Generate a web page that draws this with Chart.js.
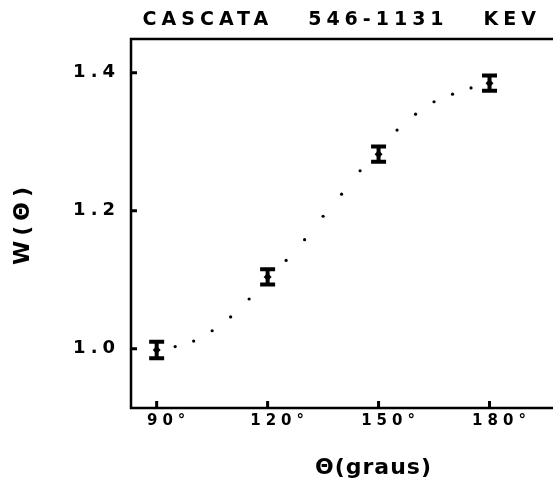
<!DOCTYPE html>
<html>
<head>
<meta charset="utf-8">
<script src="https://cdn.jsdelivr.net/npm/chart.js@4.4.1/dist/chart.umd.min.js"></script>
<style>
html, body { margin: 0; padding: 0; background: #fff; overflow: hidden; width: 553px; height: 481px; }
</style>
</head>
<body>
<!-- plot frame runs past the right edge of the page, as in the scan -->
<canvas id="c" width="620" height="481"></canvas>
<script>
// measured W(theta) with error bars
var angles = [90, 120, 150, 180];
var wValues = [0.998, 1.104, 1.282, 1.385];
var wErrors = [0.012, 0.011, 0.011, 0.011];

// dotted theoretical curve
var fitAngles = [95, 100, 105, 110, 115, 125, 130, 135, 140, 145, 155, 160, 165, 170, 175];
var fitValues = [1.003, 1.011, 1.026, 1.046, 1.072, 1.128, 1.158, 1.192, 1.224, 1.258, 1.317, 1.340, 1.358, 1.369, 1.378];

var xTicks = [90, 120, 150, 180];
var yTicks = [1.0, 1.2, 1.4];

var sans = "'DejaVu Sans', sans-serif";
var INK = '#000';

// plotter-like wide lettering; reset before the layers drawn after datasets
var spacing = {
  id: 'spacing',
  beforeUpdate: function (chart) { chart.ctx.letterSpacing = '5px'; },
  beforeDraw: function (chart) { chart.ctx.letterSpacing = '5px'; },
  afterDatasetsDraw: function (chart) { chart.ctx.letterSpacing = '1px'; }
};

var frame = {
  id: 'frame',
  beforeDatasetsDraw: function (chart) {
    var ctx = chart.ctx, a = chart.chartArea;
    var xs = chart.scales.x, ys = chart.scales.y;
    ctx.save();
    ctx.strokeStyle = INK;
    ctx.lineWidth = 2.5;
    ctx.beginPath();
    ctx.moveTo(chart.width + 5, a.top);
    ctx.lineTo(a.left, a.top);
    ctx.lineTo(a.left, a.bottom);
    ctx.lineTo(chart.width + 5, a.bottom);
    ctx.stroke();
    // inward tick marks
    ctx.lineWidth = 3;
    ctx.beginPath();
    xs.ticks.forEach(function (t) {
      var px = xs.getPixelForValue(t.value);
      ctx.moveTo(px, a.bottom);
      ctx.lineTo(px, a.bottom - 7);
    });
    ys.ticks.forEach(function (t) {
      var py = ys.getPixelForValue(t.value);
      ctx.moveTo(a.left, py);
      ctx.lineTo(a.left + 6, py);
    });
    ctx.stroke();
    ctx.restore();
  }
};

var errorBars = {
  id: 'errorBars',
  afterDatasetsDraw: function (chart) {
    var ctx = chart.ctx;
    var xs = chart.scales.x, ys = chart.scales.y;
    ctx.save();
    ctx.strokeStyle = INK;
    ctx.lineWidth = 4;
    ctx.beginPath();
    angles.forEach(function (a, i) {
      var px = xs.getPixelForValue(a);
      var hi = ys.getPixelForValue(wValues[i] + wErrors[i]);
      var lo = ys.getPixelForValue(wValues[i] - wErrors[i]);
      ctx.moveTo(px, hi); ctx.lineTo(px, lo);
      ctx.moveTo(px - 7.5, hi); ctx.lineTo(px + 7.5, hi);
      ctx.moveTo(px - 7.5, lo); ctx.lineTo(px + 7.5, lo);
    });
    ctx.stroke();
    ctx.restore();
  }
};

var xMin = 83.06, xMax = 214.2;

new Chart(document.getElementById('c'), {
  type: 'scatter',
  data: {
    datasets: [
      {
        data: fitAngles.map(function (a, i) { return { x: a, y: fitValues[i] }; }),
        pointRadius: 1.6,
        pointBackgroundColor: INK,
        pointBorderWidth: 0,
        showLine: false
      },
      {
        data: angles.map(function (a, i) { return { x: a, y: wValues[i] }; }),
        pointRadius: 4,
        pointStyle: 'rectRot',
        pointBackgroundColor: INK,
        pointBorderWidth: 0,
        showLine: false
      }
    ]
  },
  options: {
    responsive: false,
    animation: false,
    layout: { padding: 0 },
    plugins: { legend: { display: false }, tooltip: { enabled: false }, title: { display: false } },
    scales: {
      x: {
        type: 'linear', position: 'bottom', min: xMin, max: xMax,
        afterBuildTicks: function (s) { s.ticks = xTicks.map(function (v) { return { value: v }; }); },
        afterFit: function (s) { s.height = 73; },
        grid: { display: false, drawTicks: false, z: 1 },
        border: { display: false },
        ticks: {
          autoSkip: false, maxRotation: 0, padding: 4, labelOffset: 12, color: INK,
          font: { family: sans, size: 15, weight: 'bold' },
          callback: function (v) { return v + '°'; }
        },
        title: {
          display: true, text: 'Θ(graus)', color: INK,
          font: { family: sans, size: 22, weight: 'bold' },
          padding: { top: 0, bottom: 0 }
        }
      },
      x2: {
        type: 'linear', position: 'top', min: xMin, max: xMax,
        afterFit: function (s) { s.height = 39; },
        grid: { display: false, drawTicks: false },
        border: { display: false },
        ticks: { display: false },
        title: {
          display: true, align: 'start', text: ' CASCATA   546-1131   KEV', color: INK,
          font: { family: sans, size: 19, weight: 'bold' },
          padding: { top: 8.5, bottom: 0 }
        }
      },
      y: {
        type: 'linear', position: 'left', min: 0.914, max: 1.449,
        afterBuildTicks: function (s) { s.ticks = yTicks.map(function (v) { return { value: v }; }); },
        afterFit: function (s) { s.width = 131; },
        grid: { display: false, drawTicks: false },
        border: { display: false },
        ticks: {
          padding: 11, color: INK,
          font: { family: sans, size: 18, weight: 'bold' },
          callback: function (v) { return v.toFixed(1); }
        },
        title: {
          display: true, text: 'W(Θ)', color: INK,
          font: { family: sans, size: 22, weight: 'bold' },
          padding: { top: 10, bottom: 0 }
        }
      }
    }
  },
  plugins: [spacing, frame, errorBars]
});
</script>
</body>
</html>
